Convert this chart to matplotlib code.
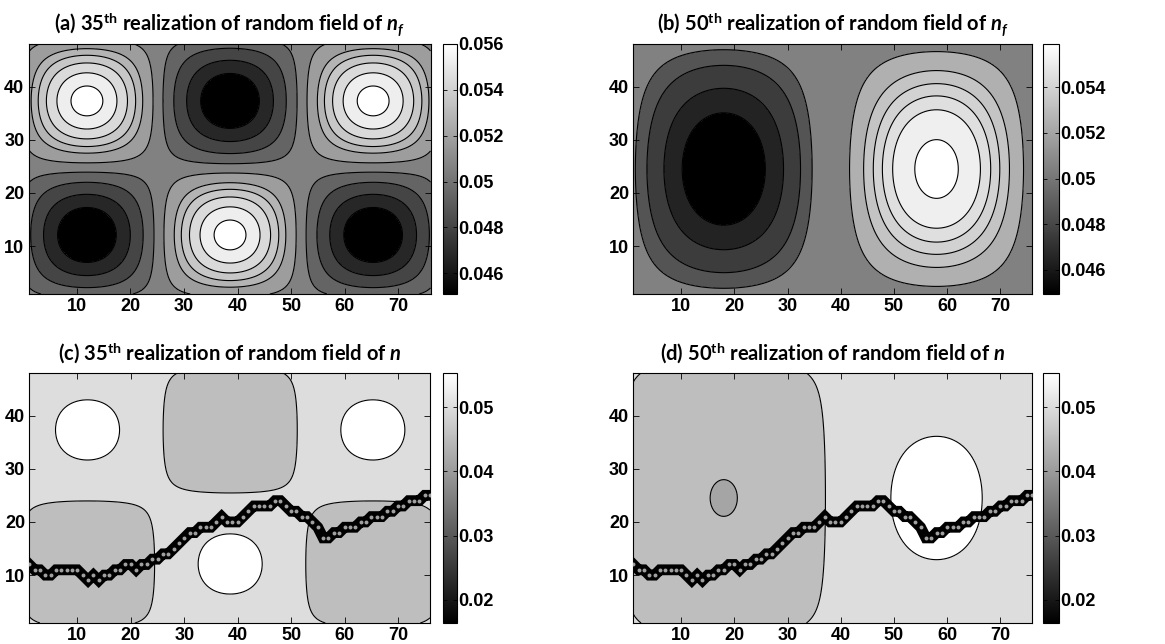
import numpy as np
import matplotlib
matplotlib.use('Agg')
import matplotlib.pyplot as plt
from matplotlib import colors as mcolors
from matplotlib.cm import ScalarMappable

plt.rcParams['font.family'] = 'Liberation Sans'
plt.rcParams['font.weight'] = 'bold'
plt.rcParams['mathtext.fontset'] = 'custom'
plt.rcParams['mathtext.rm'] = 'Lato:bold'
plt.rcParams['mathtext.it'] = 'Lato:bold:italic'
plt.rcParams['mathtext.bf'] = 'Lato:bold'

# domain (cells)
x_max, y_max = 76, 48

# realization 35 of n_f : mean, amplitude, half wavelengths and phases
mean_35, amp_35 = 0.05055, 0.00545
wave_35 = [26.7, -1.45, 25.2, 24.7]   # Lx, x0, Ly, y0
levels_35 = [0.04619, 0.04739, 0.04875, 0.05001, 0.05120,
             0.05240, 0.05317, 0.05398, 0.05486, 0.05567]
range_35 = [0.0451, 0.0560]

# realization 50 of n_f (panel b)
mean_50, amp_50 = 0.05042, 0.00548
wave_50 = [40.0, 38.0, 54.0, -2.5]
levels_50 = [0.04594, 0.04694, 0.04810, 0.04898, 0.05197,
             0.05302, 0.05368, 0.05424, 0.05479, 0.05562]
range_50 = [0.04494, 0.0559]

# n classes (panels c, d): thresholds on n_f and the class values of n
n_thresholds = [0.04505, 0.05004, 0.0547]
n_values = [0.0416, 0.0454, 0.0501, 0.0553]
n_path = 0.0164
n_range = [0.0164, 0.0553]

# flow path through the domain (same for both realizations)
path_x = np.arange(1, 77)
path_y = np.array([12, 11, 11, 10, 10, 11, 11, 11, 11, 11, 10, 9, 10, 9, 10, 10,
                   11, 11, 12, 12, 11, 12, 12, 13, 13, 14, 14, 15, 16, 17, 18, 18,
                   19, 19, 19, 20, 21, 20, 20, 20, 21, 22, 23, 23, 23, 23, 24, 24,
                   23, 22, 22, 21, 21, 20, 19, 17, 17, 18, 18, 19, 19, 19, 20, 20,
                   21, 21, 21, 22, 22, 23, 23, 24, 24, 24, 25, 25])

cbar_ticks_nf = [0.046, 0.048, 0.05, 0.052, 0.054, 0.056]
cbar_ticks_n = [0.02, 0.03, 0.04, 0.05]

titles = [r'(a) 35$^{\mathrm{th}}$ realization of random field of $n_f$',
          r'(b) 50$^{\mathrm{th}}$ realization of random field of $n_f$',
          r'(c) 35$^{\mathrm{th}}$ realization of random field of $n$',
          r'(d) 50$^{\mathrm{th}}$ realization of random field of $n$']

cmap = plt.get_cmap('gray')

xs = np.linspace(1, x_max, 376)
ys = np.linspace(1, y_max, 236)
X, Y = np.meshgrid(xs, ys)


def nf_field(mean, amp, wave):
    lx, x0, ly, y0 = wave
    return mean + amp * np.sin(np.pi * (X - x0) / lx) * np.sin(np.pi * (Y - y0) / ly)


def style_axes(ax, title):
    ax.set_xlim(1, x_max)
    ax.set_ylim(1, y_max)
    ax.set_xticks([10, 20, 30, 40, 50, 60, 70])
    ax.set_yticks([10, 20, 30, 40])
    ax.tick_params(direction='in', top=True, right=True, length=4, width=0.6,
                   labelsize=13, pad=3)
    for s in ax.spines.values():
        s.set_linewidth(0.8)
    ax.set_title(title, fontsize=14.5, pad=9, family='Lato', fontweight='bold')


def add_cbar(fig, cax, vmin, vmax, ticks):
    norm = mcolors.Normalize(vmin=vmin, vmax=vmax)
    cb = fig.colorbar(ScalarMappable(norm=norm, cmap=cmap), cax=cax)
    ticks = [t for t in ticks if vmin - 1e-9 <= t <= vmax + 1e-9]
    cb.set_ticks(ticks)
    cb.set_ticklabels(['%g' % t for t in ticks])
    cax.tick_params(direction='in', left=True, right=True, length=3, width=0.6,
                    labelsize=13, pad=1)
    cb.outline.set_linewidth(0.8)


def draw_nf(ax, cax, f, levels, vrange, title):
    vmin, vmax = vrange
    norm = mcolors.Normalize(vmin=vmin, vmax=vmax)
    lv = [f.min() - 1e-6] + levels + [f.max() + 1e-6]
    mids = [vmin] + [(a + b) / 2 for a, b in zip(levels[:-1], levels[1:])] + [vmax]
    fills = [cmap(norm(v)) for v in mids]
    ax.contourf(X, Y, f, levels=lv, colors=fills)
    ax.contour(X, Y, f, levels=levels, colors='k', linewidths=0.8)
    style_axes(ax, title)
    add_cbar(ax.figure, cax, vmin, vmax, cbar_ticks_nf)


def draw_n(ax, cax, f, title):
    norm = mcolors.Normalize(vmin=n_range[0], vmax=n_range[1])
    lv = [f.min() - 1] + n_thresholds + [f.max() + 1]
    fills = [cmap(norm(v)) for v in n_values]
    ax.contourf(X, Y, f, levels=lv, colors=fills)
    ax.contour(X, Y, f, levels=n_thresholds, colors='k', linewidths=0.8)
    # flow path cells
    ax.plot(path_x, path_y, color=cmap(norm(n_path)), lw=7.8,
            solid_joinstyle='miter', solid_capstyle='projecting')
    ax.scatter(path_x, path_y, s=8, color='#a0a0a0', linewidths=0, zorder=3)
    style_axes(ax, title)
    add_cbar(ax.figure, cax, n_range[0], n_range[1], cbar_ticks_n)


W, H = 1165, 644
fig = plt.figure(figsize=(W / 100, H / 100), dpi=100)


def box(l, r, t, b):
    return [l / W, 1 - b / H, (r - l) / W, (b - t) / H]


ax_a = fig.add_axes(box(28.5, 430.5, 44, 294))
cx_a = fig.add_axes(box(442.7, 457.3, 44, 294))
ax_b = fig.add_axes(box(633.3, 1032.3, 44, 294))
cx_b = fig.add_axes(box(1043.3, 1059, 44, 294))
ax_c = fig.add_axes(box(29.3, 430, 373, 623))
cx_c = fig.add_axes(box(442.7, 457.3, 373, 623))
ax_d = fig.add_axes(box(633.3, 1032.3, 373, 623))
cx_d = fig.add_axes(box(1043.3, 1059, 373, 623))

nf35 = nf_field(mean_35, amp_35, wave_35)
nf50 = nf_field(mean_50, amp_50, wave_50)

draw_nf(ax_a, cx_a, nf35, levels_35, range_35, titles[0])
draw_nf(ax_b, cx_b, nf50, levels_50, range_50, titles[1])
draw_n(ax_c, cx_c, nf35, titles[2])
draw_n(ax_d, cx_d, nf50, titles[3])

fig.savefig('out.png', dpi=100)
